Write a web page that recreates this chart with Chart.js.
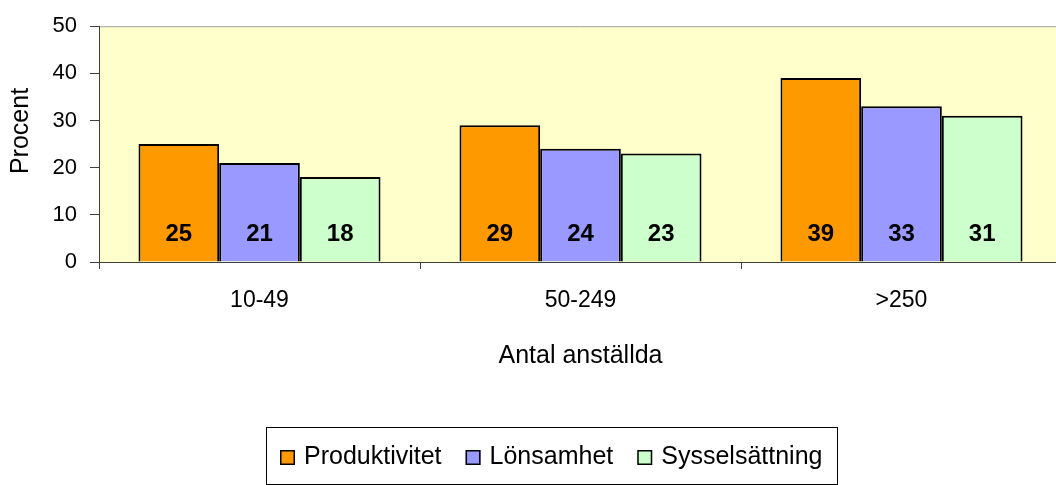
<!DOCTYPE html>
<html>
<head>
<meta charset="utf-8">
<script src="https://cdn.jsdelivr.net/npm/chart.js@4.4.1/dist/chart.umd.min.js"></script>
<style>
  html, body { margin: 0; padding: 0; background: #fff; overflow: hidden; width: 1056px; height: 485px; }
  #wrap { position: absolute; left: 0; top: 0; width: 1062px; height: 485px; }
</style>
</head>
<body>
<div id="wrap"><canvas id="c" width="1062" height="485"></canvas></div>
<script>
const categories = ['10-49', '50-249', '>250'];
const seriesNames = ['Produktivitet', 'Lönsamhet', 'Sysselsättning'];
const produktivitet = [25, 29, 39];
const lonsamhet = [21, 24, 33];
const sysselsattning = [18, 23, 31];
const yTickValues = [0, 10, 20, 30, 40, 50];
const yTitle = 'Procent';
const xTitle = 'Antal anställda';

const colors = ['#FF9900', '#9999FF', '#CCFFCC'];
const FONT = "'Liberation Sans', Arial, sans-serif";

Chart.defaults.font.family = FONT;
Chart.defaults.color = '#000';

const bgPlugin = {
  id: 'bg',
  beforeDraw(chart) {
    const {ctx, chartArea: a} = chart;
    ctx.save();
    ctx.fillStyle = '#FFFFCC';
    ctx.fillRect(a.left, a.top, a.right - a.left, a.bottom - a.top);
    ctx.strokeStyle = '#A0A0A0';
    ctx.lineWidth = 1;
    ctx.beginPath();
    ctx.moveTo(a.left, a.top + 0.5);
    ctx.lineTo(a.right, a.top + 0.5);
    ctx.stroke();
    ctx.restore();
  }
};

const labelPlugin = {
  id: 'vals',
  afterDatasetsDraw(chart) {
    const {ctx} = chart;
    ctx.save();
    ctx.font = 'bold 24px ' + FONT;
    ctx.fillStyle = '#000';
    ctx.textAlign = 'center';
    ctx.textBaseline = 'middle';
    chart.data.datasets.forEach((ds, i) => {
      chart.getDatasetMeta(i).data.forEach((bar, j) => {
        ctx.fillText(String(ds.data[j]), bar.x, bar.base - 27);
      });
    });
    ctx.restore();
  }
};

const titlePlugin = {
  id: 'ytitle',
  afterDraw(chart) {
    const {ctx} = chart;
    ctx.save();
    ctx.font = '25px ' + FONT;
    ctx.fillStyle = '#000';
    ctx.textAlign = 'center';
    ctx.textBaseline = 'middle';
    ctx.translate(21, 131);
    ctx.rotate(-Math.PI / 2);
    ctx.fillText(yTitle, 0, 0);
    ctx.restore();
  }
};

const legendPlugin = {
  id: 'boxlegend',
  afterDraw(chart) {
    const {ctx} = chart;
    const box = {left: 266, top: 427, right: 837, bottom: 484};
    ctx.save();
    ctx.strokeStyle = '#000';
    ctx.lineWidth = 1;
    ctx.strokeRect(box.left + 0.5, box.top + 0.5, box.right - box.left, box.bottom - box.top);
    ctx.font = '25px ' + FONT;
    ctx.textBaseline = 'middle';
    ctx.textAlign = 'left';
    const sq = 15, gapText = 9, gapItem = 24;
    const widths = chart.data.datasets.map(d => sq + gapText + ctx.measureText(d.label).width);
    const total = widths.reduce((s, w) => s + w, 0) + gapItem * (widths.length - 1);
    let x = Math.round((box.left + box.right) / 2 - total / 2);
    const cy = 457.5;
    chart.data.datasets.forEach((d, i) => {
      ctx.fillStyle = d.backgroundColor;
      ctx.fillRect(x, cy - sq / 2, sq, sq);
      ctx.strokeStyle = '#000';
      ctx.lineWidth = 1.5;
      ctx.strokeRect(x + 0.75, cy - sq / 2 + 0.75, sq - 1.5, sq - 1.5);
      ctx.fillStyle = '#000';
      ctx.fillText(d.label, x + sq + gapText, cy);
      x += widths[i] + gapItem;
    });
    ctx.restore();
  }
};

new Chart(document.getElementById('c'), {
  type: 'bar',
  data: {
    labels: categories,
    datasets: [produktivitet, lonsamhet, sysselsattning].map((d, i) => ({
      label: seriesNames[i],
      data: d,
      backgroundColor: colors[i],
      borderColor: '#000',
      borderWidth: 2,
      categoryPercentage: 0.754,
      barPercentage: 1.0
    }))
  },
  options: {
    responsive: false,
    animation: false,
    layout: { padding: { left: 0, top: 23, right: 0, bottom: 0 } },
    plugins: {
      legend: { display: false },
      tooltip: { enabled: false }
    },
    scales: {
      x: {
        afterFit(scale) { scale.height = 223; },
        grid: { display: true, drawOnChartArea: false, offset: true, tickLength: 7, color: '#404040', lineWidth: 1 },
        border: { display: true, color: '#404040', width: 1 },
        ticks: { font: { size: 23 }, color: '#000', padding: 18, maxRotation: 0 },
        title: { display: true, text: xTitle, font: { size: 25 }, color: '#000', padding: { top: 0, bottom: 114 } }
      },
      y: {
        min: 0, max: 50,
        afterFit(scale) { scale.width = 99; },
        afterBuildTicks(scale) { scale.ticks = yTickValues.map(v => ({ value: v })); },
        grid: { display: true, drawOnChartArea: false, tickLength: 9, color: '#404040', lineWidth: 1 },
        border: { display: true, color: '#404040', width: 1 },
        ticks: { font: { size: 22 }, color: '#000', padding: 13 }
      }
    }
  },
  plugins: [bgPlugin, labelPlugin, titlePlugin, legendPlugin]
});
</script>
</body>
</html>
